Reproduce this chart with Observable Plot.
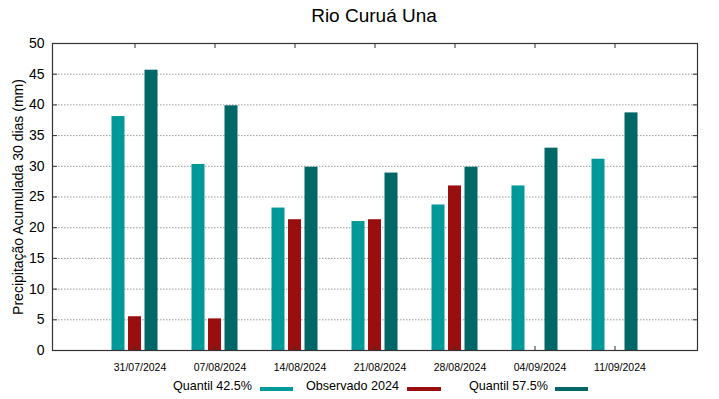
<!DOCTYPE html>
<html>
<head>
<meta charset="utf-8">
<script src="https://cdn.jsdelivr.net/npm/d3@7"></script>
<script src="https://cdn.jsdelivr.net/npm/@observablehq/plot@0.6"></script>
<style>
  body { margin: 0; background: #fff; font-family: "Liberation Sans", Arial, sans-serif; }
  #wrap { position: relative; width: 719px; height: 399px; overflow: hidden; }
  #title { position: absolute; left: 0; top: 0; width: 719px; height: 32px; }
  #title span { position: absolute; left: 374px; top: 6px; transform: translateX(-50%); font-size: 19px; line-height: 19px; white-space: nowrap; color: #000; }
  #chart { position: absolute; left: 0; top: 32px; }
  #legend { position: absolute; left: 0; top: 378px; width: 719px; height: 21px; font-size: 12.6px; color: #000; }
  #legend .t { position: absolute; top: 2.3px; line-height: 12.6px; white-space: nowrap; text-align: right; }
  #legend .s { position: absolute; top: 8.7px; height: 4.5px; }
</style>
</head>
<body>
<div id="wrap">
  <div id="title"><span>Rio Curuá Una</span></div>
  <div id="chart"></div>
  <div id="legend"></div>
</div>
<script>
const dates = ["31/07/2024", "07/08/2024", "14/08/2024", "21/08/2024", "28/08/2024", "04/09/2024", "11/09/2024"];
const quantil425 = [38.1, 30.3, 23.2, 21.0, 23.7, 26.8, 31.15];
const observado2024 = [5.5, 5.15, 21.3, 21.3, 26.8, null, null];
const quantil575 = [45.65, 39.85, 29.85, 28.9, 29.85, 32.95, 38.7];
const yTicks = [0, 5, 10, 15, 20, 25, 30, 35, 40, 45, 50];
const yLabel = "Precipitação Acumulada 30 dias (mm)";
const seriesNames = ["Quantil 42.5%", "Observado 2024", "Quantil 57.5%"];
const seriesColors = ["#009999", "#990e0e", "#006666"];

const rows = dates.map((d, i) => ({date: d, q425: quantil425[i], obs: observado2024[i], q575: quantil575[i]}));
const noText = () => "";

const chart = Plot.plot({
  width: 719,
  height: 346,
  marginTop: 11,
  marginBottom: 28,
  marginLeft: 52,
  marginRight: 22,
  style: {fontFamily: "'Liberation Sans', Arial, sans-serif", background: "white", color: "#000"},
  x: {type: "band", domain: dates, paddingInner: 0.8388, paddingOuter: 0.9194, label: null},
  y: {domain: [0, 50], label: null},
  marks: [
    Plot.gridY(yTicks.filter(v => v > 0 && v < 50), {stroke: "#9a9a9a", strokeOpacity: 1, strokeDasharray: "1.5,1.5"}),
    Plot.barY(rows, {x: "date", y: "q425", fill: seriesColors[0], dx: -16.5}),
    Plot.barY(rows.filter(d => d.obs != null), {x: "date", y: "obs", fill: seriesColors[1]}),
    Plot.barY(rows, {x: "date", y: "q575", fill: seriesColors[2], dx: 16.5}),
    Plot.frame({stroke: "#333", strokeWidth: 1.2}),
    Plot.axisX({anchor: "bottom", tickSize: 0, tickPadding: 13.5, dx: 5, fontSize: 10.5, label: null}),
    Plot.axisX({anchor: "bottom", tickSize: -4, tickFormat: noText, stroke: "#333", label: null}),
    Plot.axisX({anchor: "top", tickSize: -4, tickFormat: noText, stroke: "#333", label: null}),
    Plot.axisY(yTicks, {anchor: "left", tickSize: 0, tickPadding: 8, fontSize: 14, label: null}),
    Plot.axisY(yTicks, {anchor: "left", tickSize: -5, tickFormat: noText, stroke: "#333", label: null}),
    Plot.axisY(yTicks, {anchor: "right", tickSize: -5, tickFormat: noText, stroke: "#333", label: null}),
    Plot.text([yLabel], {text: d => d, frameAnchor: "left", rotate: -90, dx: -34, fontSize: 14, textAnchor: "middle", lineAnchor: "middle"})
  ]
});
document.getElementById("chart").appendChild(chart);

// Legend (HTML, below the SVG)
const legendLayout = [
  {textRight: 252, swLeft: 260, swWidth: 33},
  {textRight: 399, swLeft: 407, swWidth: 34},
  {textRight: 548, swLeft: 555, swWidth: 33}
];
const legend = document.getElementById("legend");
seriesNames.forEach((name, i) => {
  const t = document.createElement("span");
  t.className = "t";
  t.textContent = name;
  t.style.right = (719 - legendLayout[i].textRight) + "px";
  legend.appendChild(t);
  const s = document.createElement("span");
  s.className = "s";
  s.style.left = legendLayout[i].swLeft + "px";
  s.style.width = legendLayout[i].swWidth + "px";
  s.style.background = seriesColors[i];
  legend.appendChild(s);
});
</script>
</body>
</html>
